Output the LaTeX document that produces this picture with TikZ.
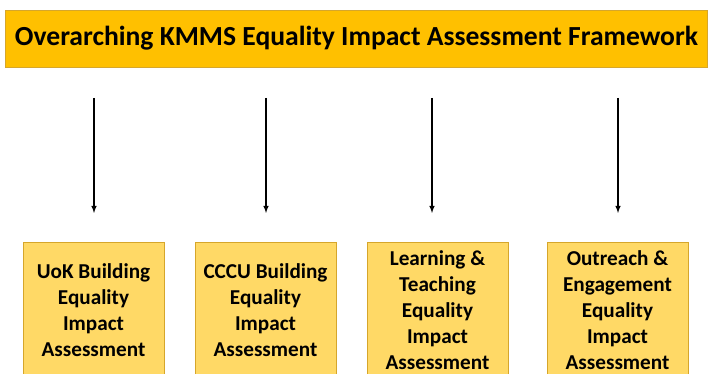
\documentclass[tikz,border=0pt]{standalone}
\usepackage{fontspec}
\setmainfont{Carlito}
\usepackage{tikz}
\usetikzlibrary{positioning}
\definecolor{gold}{HTML}{FFC000}
\definecolor{lightgold}{HTML}{FFD966}
\definecolor{goldline}{HTML}{D6A62B}

\begin{document}
\begin{tikzpicture}[x=1pt, y=1pt,
        headbox/.style={draw=goldline, fill=gold, minimum width=702pt, minimum height=57pt, inner sep=0pt, font=\fontsize{27.6}{32}\selectfont\bfseries},
        eiabox/.style={draw=goldline, fill=lightgold, minimum width=141pt, minimum height=136pt, inner sep=0pt, align=center, anchor=north, font=\fontsize{21.2}{26}\selectfont\bfseries},
        feed/.style={->, >=latex, line width=1.4pt}
    ]

    \useasboundingbox (0,0) rectangle (708,374);

    %nodes
    \node[headbox] (head) at (356.5,335.5) {Overarching KMMS Equality Impact Assessment Framework};

    \node[eiabox] (uok) at (93.5,132) {UoK Building\\Equality\\Impact\\Assessment};
    \node[eiabox] (cccu) at (265.5,132) {CCCU Building\\Equality\\Impact\\Assessment};
    \node[eiabox] (lt) at (437.5,132) {Learning \&\\Teaching\\Equality\\Impact\\Assessment};
    \node[eiabox] (oe) at (617.5,132) {Outreach \&\\Engagement\\Equality\\Impact\\Assessment};

    %arrow ends
    \coordinate (uoktop) at (94,276);
    \coordinate (uokend) at (94,161);
    \coordinate (cccutop) at (266,276);
    \coordinate (cccuend) at (266,161);
    \coordinate (lttop) at (432,276);
    \coordinate (ltend) at (432,161);
    \coordinate (oetop) at (618,276);
    \coordinate (oeend) at (618,161);

    %arrows
    \draw[feed] (uoktop)--(uokend);
    \draw[feed] (cccutop)--(cccuend);
    \draw[feed] (lttop)--(ltend);
    \draw[feed] (oetop)--(oeend);

\end{tikzpicture}
\end{document}
